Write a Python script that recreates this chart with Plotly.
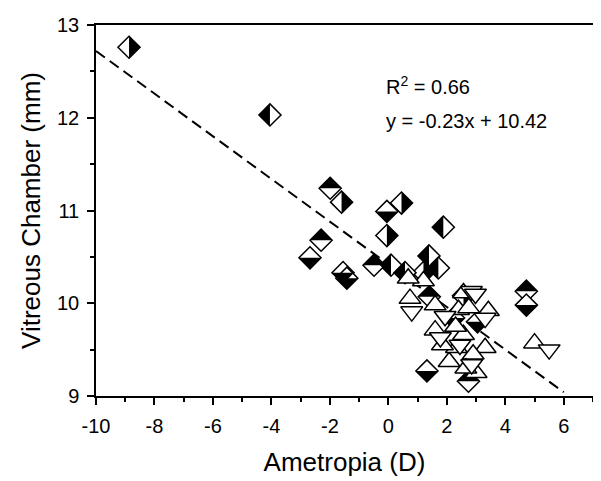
import plotly.graph_objects as go

# ---- data ----
# half-filled diamonds, grouped by which half is black
right_x = [-8.87, -1.60, 0.45, -0.05, 2.57, 1.20]
right_y = [12.76, 11.09, 11.08, 10.73, 10.08, 10.33]
left_x = [-4.05, 1.88, 1.39, 0.09, 0.57, 1.71]
left_y = [12.03, 10.82, 10.51, 10.41, 10.33, 10.38]
top_x = [-1.99, -2.30, -0.49, 2.74, 1.40, 4.72]
top_y = [11.24, 10.68, 10.41, 9.16, 10.07, 10.13]
bottom_x = [-2.68, -1.55, -1.42, -0.05, 1.32, 2.23, 3.05, 4.72]
bottom_y = [10.49, 10.33, 10.27, 10.99, 9.27, 9.84, 9.80, 9.98]
# open triangles
up_x = [0.74, 1.20, 0.68, 1.60, 2.57, 3.42, 2.40, 1.60, 2.08, 2.33, 2.57, 3.00,
        3.31, 2.90, 2.30, 2.75, 1.85, 2.65, 5.00]
up_y = [10.05, 10.24, 10.27, 9.98, 10.11, 9.92, 9.93, 9.71, 9.37, 9.52, 9.66, 9.25,
        9.52, 9.45, 9.75, 9.95, 9.55, 9.30, 9.57]
down_x = [0.80, 2.84, 1.94, 3.31, 1.78, 2.85, 2.98, 2.45, 5.50]
down_y = [9.91, 10.13, 9.86, 9.84, 9.63, 9.34, 10.10, 9.55, 9.50]
# regression
slope = -0.23
intercept = 10.42
fit_x = [-10, 6]
fit_y = [slope * v + intercept for v in fit_x]

x_range = [-10, 7]
y_range = [9, 13]
x_ticks = [-10, -8, -6, -4, -2, 0, 2, 4, 6]
x_tick_text = ["-10", "-8", "-6", "-4", "-2", "0", "2", "4", "6"]
y_ticks = [9, 10, 11, 12, 13]
y_tick_text = ["9", "10", "11", "12", "13"]

# ---- styling constants ----
FONT = "Liberation Sans, Arial, sans-serif"
ML, MR, MT, MB = 88, 16, 17, 93
W, H = 601, 481
D_SIZE = 17                      # diamond marker size
T_SIZE = D_SIZE * 1.3 / 1.2728   # right-triangle half, same half-diagonal
TRI_SIZE = 19
plot_w = W - ML - MR
plot_h = H - MT - MB
shift_px = 0.4243 * T_SIZE / 2   # centroid -> hypotenuse distance
dx = shift_px * (x_range[1] - x_range[0]) / plot_w
dy = shift_px * (y_range[1] - y_range[0]) / plot_h

fig = go.Figure()

fig.add_trace(go.Scatter(x=fit_x, y=fit_y, mode="lines",
                         line=dict(color="black", width=2, dash="11px,6px"),
                         hoverinfo="skip", showlegend=False))

all_dx = right_x + left_x + top_x + bottom_x
all_dy = right_y + left_y + top_y + bottom_y
fig.add_trace(go.Scatter(x=all_dx, y=all_dy, mode="markers",
                         marker=dict(symbol="diamond", size=D_SIZE, color="white",
                                     line=dict(color="black", width=1.5)),
                         hoverinfo="skip", showlegend=False))


def half(xs, ys, angle, xa, ya):
    return go.Scatter(x=xs, y=ys, mode="markers", xaxis=xa, yaxis=ya,
                      marker=dict(symbol="triangle-ne", angle=angle, size=T_SIZE,
                                  color="black", line=dict(width=0)),
                      hoverinfo="skip", showlegend=False)


fig.add_trace(half(right_x, right_y, 45, "x2", "y"))
fig.add_trace(half(left_x, left_y, 225, "x3", "y"))
fig.add_trace(half(top_x, top_y, 315, "x", "y2"))
fig.add_trace(half(bottom_x, bottom_y, 135, "x", "y3"))

fig.add_trace(go.Scatter(x=up_x, y=up_y, mode="markers", xaxis="x4", yaxis="y",
                         marker=dict(symbol="triangle-up", size=TRI_SIZE, color="white",
                                     line=dict(color="black", width=1.5)),
                         hoverinfo="skip", showlegend=False))
fig.add_trace(go.Scatter(x=down_x, y=down_y, mode="markers", xaxis="x4", yaxis="y",
                         marker=dict(symbol="triangle-down", size=TRI_SIZE, color="white",
                                     line=dict(color="black", width=1.5)),
                         hoverinfo="skip", showlegend=False))

fig.add_annotation(x=-0.15, y=12.35, xref="x", yref="y", xanchor="left",
                   text="R<sup>2</sup> = 0.66", showarrow=False,
                   font=dict(family=FONT, size=20, color="black"))
fig.add_annotation(x=-0.15, y=11.97, xref="x", yref="y", xanchor="left",
                   text="y = -0.23x + 10.42", showarrow=False,
                   font=dict(family=FONT, size=20, color="black"))

axis_common = dict(showgrid=False, zeroline=False, showline=True, linecolor="black",
                   linewidth=1.5, mirror=True, ticks="outside", ticklen=7,
                   tickwidth=1.5, tickcolor="black", automargin=False,
                   tickfont=dict(family=FONT, size=20, color="black"))

hidden = dict(visible=False, showgrid=False, zeroline=False, automargin=False)

fig.update_layout(
    template="none",
    width=W, height=H,
    margin=dict(l=ML, r=MR, t=MT, b=MB, autoexpand=False),
    paper_bgcolor="white", plot_bgcolor="white",
    font=dict(family=FONT, color="black"),
    xaxis=dict(range=x_range, tickmode="array", tickvals=x_ticks, ticktext=x_tick_text,
               ticklabelstandoff=4,
               minor=dict(dtick=1, tick0=-10, ticklen=4, ticks="outside", tickcolor="black",
                          tickwidth=1.5, showgrid=False),
               title=dict(text="Ametropia (D)", font=dict(family=FONT, size=26),
                          standoff=17),
               **axis_common),
    yaxis=dict(range=y_range, tickmode="array", tickvals=y_ticks, ticktext=y_tick_text,
               ticklabelstandoff=4,
               minor=dict(dtick=0.5, tick0=9, ticklen=4, ticks="outside", tickcolor="black",
                          tickwidth=1.5, showgrid=False),
               title=dict(text="Vitreous Chamber (mm)", font=dict(family=FONT, size=26),
                          standoff=9),
               **axis_common),
    xaxis2=dict(overlaying="x", anchor="y", range=[x_range[0] - dx, x_range[1] - dx], **hidden),
    xaxis3=dict(overlaying="x", anchor="y", range=[x_range[0] + dx, x_range[1] + dx], **hidden),
    xaxis4=dict(overlaying="x", anchor="y", range=x_range, **hidden),
    yaxis2=dict(overlaying="y", anchor="x", range=[y_range[0] - dy, y_range[1] - dy], **hidden),
    yaxis3=dict(overlaying="y", anchor="x", range=[y_range[0] + dy, y_range[1] + dy], **hidden),
)

fig.write_html("out.html")
